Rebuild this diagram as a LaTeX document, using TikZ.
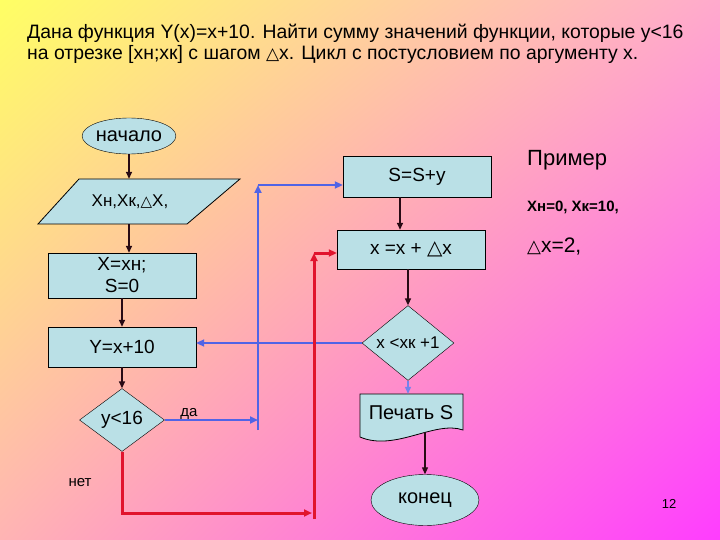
\documentclass[tikz,border=0pt]{standalone}
\usepackage{fontspec}
\setmainfont{Liberation Sans}
\newfontfamily\tri{DejaVu Sans}
\usetikzlibrary{shapes.geometric,arrows.meta,shadings}

\definecolor{bgyellow}{RGB}{255,255,100}
\definecolor{bgpink}{RGB}{255,170,205}
\definecolor{bgrose}{RGB}{255,180,180}
\definecolor{bgmagenta}{RGB}{255,60,255}
\definecolor{boxfill}{RGB}{186,224,230}
\definecolor{darkarrow}{RGB}{40,10,20}
\definecolor{loopblue}{RGB}{80,100,230}
\definecolor{loopred}{RGB}{225,20,45}

\begin{document}
\begin{tikzpicture}[x=1pt,y=-1pt]
  \tikzstyle{block}=[rectangle,draw=black,fill=boxfill,inner sep=0pt,align=center,
                     font=\fontsize{19}{22}\selectfont]
  \tikzstyle{term}=[ellipse,draw=black,fill=boxfill,inner sep=0pt,
                    font=\fontsize{20}{22}\selectfont]
  \tikzstyle{test}=[diamond,draw=black,fill=boxfill,inner sep=0pt]
  \tikzstyle{flow}=[draw=darkarrow,line width=1.5pt,-{Triangle[length=7pt,width=6pt]}]
  \tikzstyle{blueline}=[draw=loopblue,line width=2.5pt,-{Triangle[length=8pt,width=7pt]}]
  \tikzstyle{redline}=[draw=loopred,line width=3pt,-{Triangle[length=8pt,width=7pt]}]
  \tikzstyle{note}=[inner sep=0pt,font=\fontsize{15}{17}\selectfont]

  % background
  \shade[upper left=bgyellow,upper right=bgpink,lower left=bgrose,lower right=bgmagenta]
    (0,0) rectangle (720,540);
  \useasboundingbox (0,0) rectangle (720,540);

  \node[inner sep=0pt,anchor=north west,align=left,font=\fontsize{19.4}{21}\selectfont] (title) at (27,24)
    {Дана функция Y(x)=x+10. Найти сумму значений функции, которые y<16\\
     на отрезке [xн;xк] с шагом {\tri\fontsize{17}{17}\selectfont △}x. Цикл с постусловием по аргументу x.};

  % left column
  \node[term,minimum width=86pt,minimum height=36pt] (start) at (129,136) {начало};
  \draw[draw=black,fill=boxfill,line width=0.8pt] (79,179) -- (240,179) -- (187,224) -- (38,224) -- cycle;
  \node[inner sep=0pt,minimum width=150pt,minimum height=45pt,
        font=\fontsize{17}{19}\selectfont] (inp) at (130,201.5) {Xн,Xк,{\tri\fontsize{15}{15}\selectfont △}X,};
  \node[block,minimum width=148pt,minimum height=45pt] (init) at (122,275.5) {X=xн;\\S=0};
  \node[block,minimum width=148pt,minimum height=40pt] (fun) at (122,347) {Y=x+10};
  \node[test,minimum width=85pt,minimum height=63pt,font=\fontsize{19}{22}\selectfont] (cond1) at (122,420) {y<16};

  % right column
  \node[block,minimum width=148pt,minimum height=41pt] (sum) at (417,176.5) {S=S+y};
  \node[block,minimum width=148pt,minimum height=39pt] (incr) at (411,249.5) {x =x + {\tri\fontsize{20}{20}\selectfont △}x};
  \node[test,minimum width=92pt,minimum height=65pt,font=\fontsize{17}{19}\selectfont] (cond2) at (408,343) {x <xк +1};
  \draw[draw=black,fill=boxfill,line width=0.8pt] (360,394) -- (463,394) -- (463,430)
    .. controls (435,420) and (395,452) .. (360,437) -- cycle;
  \node[inner sep=0pt,font=\fontsize{20}{22}\selectfont,minimum width=103pt,minimum height=38pt] (prn) at (411,413) {Печать S};
  \node[term,minimum width=108pt,minimum height=51pt] (stop) at (425,500) {конец};

  % example
  \node[inner sep=0pt,anchor=west,font=\fontsize{22}{24}\selectfont] (ex) at (527,160) {Пример};
  \node[inner sep=0pt,anchor=west,font=\bfseries\fontsize{15}{17}\selectfont] (exa) at (527,207) {Xн=0, Xк=10,};
  \node[inner sep=0pt,anchor=west,font=\fontsize{21}{23}\selectfont] (exb) at (527,247) {{\tri\fontsize{18}{18}\selectfont △}x=2,};
  \node[inner sep=0pt,font=\fontsize{13}{15}\selectfont] (page) at (669,504) {12};

  \node[note] (yes) at (189,414) {да};
  \node[note] (no) at (80,483) {нет};

  \coordinate (c0) at (258,430);
  \coordinate (c2) at (258,185);
  \coordinate (r1) at (122,513);
  \coordinate (r2) at (312,513);
  \coordinate (r0) at (314,519);
  \coordinate (r3) at (314,253);

  % main flow
  \draw[flow] (start.south) -- (start.south |- inp.north);
  \draw[flow] (start |- inp.south) -- (start |- init.north);
  \draw[flow] (init) -- (fun);
  \draw[flow] (fun) -- (cond1);
  \draw[flow] ([xshift=-17pt]sum.south) -- ([xshift=-17pt]sum.south |- incr.north);
  \draw[flow] (cond2 |- incr.south) -- (cond2.north);
  \draw[flow,draw=loopblue!80!white,line width=1.2pt] (cond2.south) -- (cond2.south |- prn.north);
  \draw[flow,line width=1.2pt] (stop |- prn.south) -- (stop.north);

  % yes branch
  \draw[blueline] (cond1.east) -- (cond1.east -| c0);
  \draw[blueline] (c0) -- (c2);
  \draw[blueline] (c2) -- (c2 -| sum.west);
  \draw[blueline] (cond2.west) -- (cond2.west -| fun.east);

  % no branch
  \draw[redline] (cond1.south) -- (r1) -- (r2);
  \draw[redline] (r0) -- (r3);
  \draw[redline] (r3) -- (r3 -| incr.west);
\end{tikzpicture}
\end{document}
